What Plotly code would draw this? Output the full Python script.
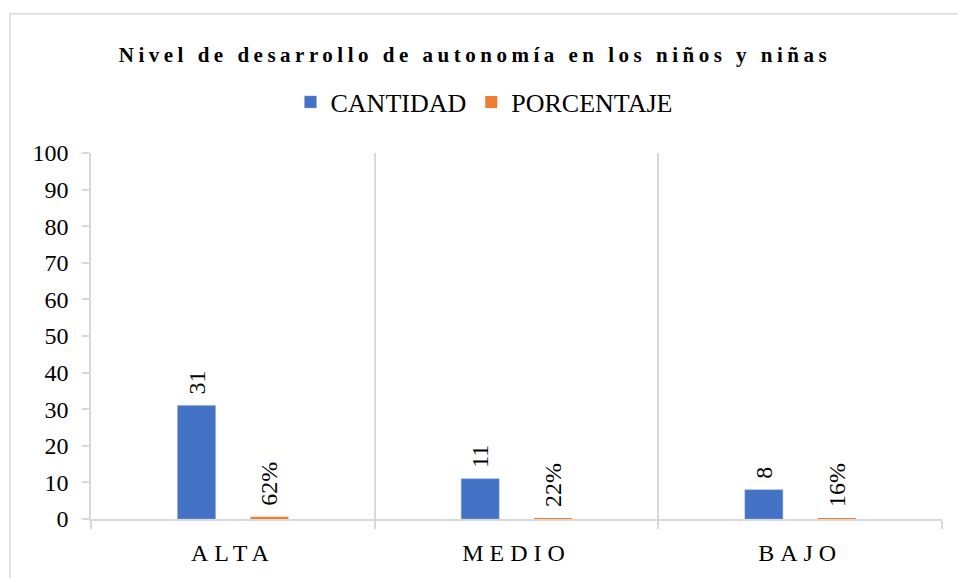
import plotly.graph_objects as go

categories = ["ALTA", "MEDIO", "BAJO"]
cantidad = [31, 11, 8]
porcentaje = [0.62, 0.22, 0.16]
y_ticks = [0, 10, 20, 30, 40, 50, 60, 70, 80, 90, 100]

title_text = "Nivel de desarrollo de autonomía en los niños y niñas"

FONT = "Liberation Serif"
GRID = "#D9D9D9"
BLUE = "#4472C4"
ORANGE = "#ED7D31"

# layout geometry (pixels)
W, H = 958, 578
L, R, T, B = 91, 16, 153, 52
pw, ph = W - L - R, H - T - B

def px_x(x):
    return (x - L) / pw

def px_y(y):
    return (H - B - y) / ph

PAD = "\u2004"  # small spacer so labels sit a little above the bars

fig = go.Figure()
fig.add_trace(go.Bar(
    x=categories, y=cantidad, name="CANTIDAD",
    marker=dict(color=BLUE, line=dict(color="#8FAADC", width=0.5)),
    width=0.134, offset=-0.195,
    text=[PAD + str(v) for v in cantidad], textposition="outside",
    textangle=-90, constraintext="none", cliponaxis=False,
    textfont=dict(family=FONT, size=24, color="#000000"),
))
fig.add_trace(go.Bar(
    x=categories, y=porcentaje, name="PORCENTAJE",
    marker=dict(color=ORANGE, line=dict(width=0)),
    width=0.134, offset=0.062,
    texttemplate=PAD + "%{y:.0%}", textposition="outside",
    textangle=-90, constraintext="none", cliponaxis=False,
    textfont=dict(family=FONT, size=24, color="#000000"),
))

fig.update_layout(
    width=W, height=H,
    margin=dict(l=L, r=R, t=T, b=B, pad=0),
    paper_bgcolor="white", plot_bgcolor="white",
    barmode="overlay",
    font=dict(family=FONT, size=24, color="#000000"),
    title=dict(
        text="<span style='letter-spacing:4.5px'>" + title_text + "</span>",
        font=dict(family=FONT, size=21, color="#000000", weight="bold"),
        x=475 / W, xref="container", xanchor="center",
        y=1 - 55 / H, yref="container", yanchor="middle",
    ),
    legend=dict(
        orientation="h", x=px_x(484), xanchor="center",
        y=px_y(101), yanchor="middle",
        font=dict(family=FONT, size=26, color="#000000"),
        itemwidth=30, tracegroupgap=0,
        bgcolor="rgba(0,0,0,0)",
    ),
    xaxis=dict(
        type="category", tickson="boundaries",
        tickvals=categories,
        ticktext=["<span style='letter-spacing:6px'>" + c + "</span>" for c in categories],
        ticks="outside", ticklen=8, tickcolor=GRID, tickwidth=1.5,
        showgrid=True, gridcolor=GRID, gridwidth=1.5,
        showline=True, linecolor=GRID, linewidth=1.5,
        ticklabelstandoff=11,
        tickfont=dict(family=FONT, size=24, color="#000000"),
        range=[-0.5, 2.5],
    ),
    yaxis=dict(
        range=[0, 100], tickvals=y_ticks,
        ticks="outside", ticklen=7, tickcolor=GRID, tickwidth=1.5,
        showgrid=False, zeroline=False,
        showline=True, linecolor=GRID, linewidth=1.5,
        ticklabelstandoff=9,
        tickfont=dict(family=FONT, size=24, color="#000000"),
    ),
    showlegend=True,
)

# outer chart border (top and left edges visible)
fig.add_shape(
    type="rect", xref="paper", yref="paper",
    x0=px_x(10), x1=px_x(970), y0=px_y(600), y1=px_y(11),
    line=dict(color=GRID, width=1.5), fillcolor="rgba(0,0,0,0)", layer="below",
)

fig.write_html(
    "out.html",
    config={"displayModeBar": False},
    post_script="document.body.style.margin='0';document.body.style.overflow='hidden';",
)
